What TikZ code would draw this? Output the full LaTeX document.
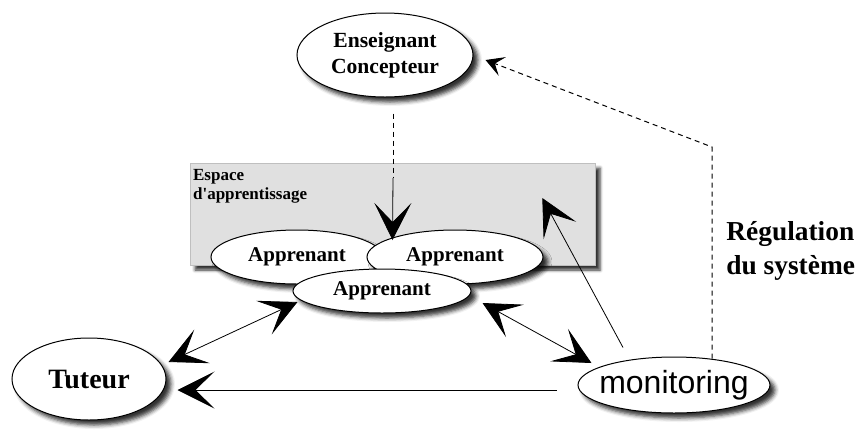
\documentclass[tikz,border=0pt]{standalone}
\usepackage{fontspec}
\setmainfont{Liberation Serif}
\newfontfamily\monitorfont{Liberation Sans}
\usetikzlibrary{shapes.geometric,arrows.meta,shadows.blur}
\definecolor{espacegris}{RGB}{224,224,224}

\begin{document}
\begin{tikzpicture}[x=0.5pt,y=-0.5pt,
  bulle/.style={ellipse,draw,line width=0.5pt,fill=white,inner sep=0pt,
    blur shadow={shadow xshift=2.5pt,shadow yshift=-2.5pt,shadow blur radius=2pt,shadow opacity=80}},
  pointe/.tip={Stealth[length=18.5pt,width=18.5pt,inset=9.5pt]},
  fleche/.style={-pointe,line width=0.4pt},
  flechedouble/.style={pointe-pointe,line width=0.4pt},
  tirets/.style={line width=0.5pt,dash pattern=on 2.5pt off 2pt}]
\useasboundingbox (0,0) rectangle (858,430);

\node [fill=espacegris,draw=gray!50,line width=0.3pt,minimum width=202.5pt,minimum height=51pt,
  blur shadow={shadow xshift=2.5pt,shadow yshift=-2.5pt,shadow blur radius=1.5pt,shadow opacity=80}]
  (esp) at (392.5,214) {};
\node [anchor=north west,inner sep=0pt,align=left,font=\bfseries\fontsize{8.5}{9.5}\selectfont]
  (esptitre) at ([shift={(1.5pt,-3pt)}]esp.north west) {Espace\\d\textquotesingle apprentissage};

\node [bulle,minimum width=88pt,minimum height=42pt,align=center,font=\bfseries\fontsize{10.8}{13}\selectfont]
  (ens) at (385,55) {Enseignant\\Concepteur};
\node [bulle,minimum width=86pt,minimum height=27pt,font=\bfseries\fontsize{10.5}{12}\selectfont]
  (appA) at (297,257) {Apprenant};
\node [bulle,minimum width=88pt,minimum height=27pt,font=\bfseries\fontsize{10.5}{12}\selectfont]
  (appB) at (455,257) {Apprenant};
\node [bulle,minimum width=89pt,minimum height=22pt,font=\bfseries\fontsize{10.5}{12}\selectfont]
  (appC) at (382,291) {Apprenant};
\node [bulle,minimum width=77pt,minimum height=41pt,font=\bfseries\fontsize{14}{16}\selectfont]
  (tut) at (89,379) {Tuteur};
\node [bulle,minimum width=96pt,minimum height=28pt,inner xsep=-4pt,font=\monitorfont\fontsize{16}{18}\selectfont]
  (moni) at (674,385) {monitoring};
\node [anchor=west,inner sep=0pt,align=left,font=\bfseries\fontsize{13.7}{17}\selectfont]
  (regul) at (726,251) {Régulation\\du système};

\coordinate (coude) at (393,178);
\coordinate (coin) at (712,147);

\draw [tirets] ([shift={(4pt,-8pt)}]ens.south) -- (coude);
\draw [fleche] (coude) -- ([yshift=-13pt]esp.center);
\draw [flechedouble] ([shift={(1pt,8.5pt)}]tut.east) -- ([shift={(2.5pt,-5.5pt)}]appC.west);
\draw [flechedouble] ([shift={(5.5pt,-6pt)}]appC.east) -- ([shift={(7pt,11pt)}]moni.west);
\draw [fleche] ([shift={(-10.5pt,-2.5pt)}]moni.west) -- ([shift={(5.5pt,-5.5pt)}]tut.east);
\draw [fleche] ([shift={(-25.5pt,4.5pt)}]moni.north) -- ([shift={(-26.5pt,8pt)}]esp.east);
\draw [tirets,-{Stealth[length=9pt,width=10pt,inset=4pt]}] ([shift={(19pt,-1pt)}]moni.north) -- (coin)
  -- ([shift={(6pt,-2.5pt)}]ens.east);
\end{tikzpicture}
\end{document}
